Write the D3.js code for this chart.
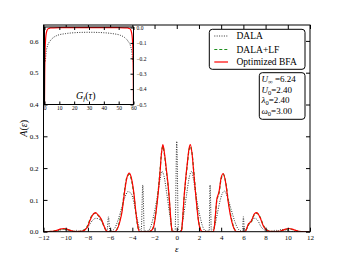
<!DOCTYPE html>
<html>
<head>
<meta charset="utf-8">
<script src="https://cdn.jsdelivr.net/npm/d3@7"></script>
<style>
  body { margin: 0; background: #fff; }
  svg { display: block; }
  text { font-family: "Liberation Serif", "DejaVu Serif", serif; fill: #000; }
</style>
</head>
<body>
<svg id="chart" width="344" height="258"></svg>
<script>
// spectral function A(eps)
const epsBFA = [-12, -11.2, -10.8, -10.5, -10.2, -9.9, -9.6, -9.3, -9.0, -8.7, -8.45, -8.25, -8.0, -7.8, -7.55, -7.3, -7.1, -6.9, -6.75, -6.55, -6.37, -6.2,
  -5.6, -5.4, -5.26, -5.1, -4.95, -4.72, -4.5, -4.27, -4.05, -3.85, -3.67, -3.46, -3.36,
  -2.5, -2.3, -2.1, -1.95, -1.8, -1.65, -1.5, -1.38, -1.25, -1.1, -0.95, -0.8, -0.65, -0.55, -0.45, -0.4,
  0.4, 0.45, 0.55, 0.65, 0.8, 0.95, 1.1, 1.22, 1.38, 1.52, 1.67, 1.82, 1.95, 2.1, 2.3,
  3.3, 3.39, 3.5, 3.6, 3.81, 4.0, 4.19, 4.41, 4.65, 4.89, 5.05, 5.19, 5.4,
  6.15, 6.3, 6.45, 6.7, 6.99, 7.2, 7.5, 7.8, 8.1, 8.4, 8.8, 9.2, 9.5, 9.8, 10.1, 10.4, 10.7, 11.0, 11.5, 12];
const valBFA = [0, 0.001, 0.004, 0.008, 0.010, 0.008, 0.004, 0.001, 0.0005, 0.001, 0.002, 0.006, 0.018, 0.037, 0.054, 0.060, 0.053, 0.045, 0.036, 0.018, 0.004, 0,
  0, 0.006, 0.016, 0.035, 0.058, 0.120, 0.168, 0.184, 0.163, 0.118, 0.058, 0.010, 0,
  0, 0.003, 0.013, 0.04, 0.08, 0.13, 0.19, 0.245, 0.274, 0.245, 0.2, 0.155, 0.095, 0.045, 0.008, 0,
  0, 0.008, 0.05, 0.105, 0.165, 0.215, 0.26, 0.274, 0.245, 0.19, 0.13, 0.075, 0.035, 0.01, 0,
  0, 0.016, 0.06, 0.1, 0.126, 0.17, 0.183, 0.153, 0.09, 0.042, 0.02, 0.008, 0,
  0, 0.01, 0.024, 0.032, 0.056, 0.060, 0.045, 0.018, 0.005, 0.001, 0.0005, 0.001, 0.004, 0.008, 0.010, 0.008, 0.004, 0.001, 0, 0];

const epsLF = [-12, -11.2, -10.8, -10.5, -10.2, -9.9, -9.6, -9.3, -9.0, -8.7, -8.45, -8.25, -8.0, -7.8, -7.55, -7.3, -7.1, -6.9, -6.75, -6.55, -6.37, -6.2,
  -5.6, -5.4, -5.26, -5.1, -4.95, -4.72, -4.5, -4.27, -4.05, -3.85, -3.67, -3.46, -3.36,
  -2.5, -2.3, -2.1, -1.95, -1.8, -1.65, -1.5, -1.38, -1.25, -1.1, -0.95, -0.8, -0.65, -0.55, -0.45, -0.4,
  0.4, 0.45, 0.55, 0.65, 0.8, 0.95, 1.1, 1.22, 1.38, 1.52, 1.67, 1.82, 1.95, 2.1, 2.3,
  3.3, 3.39, 3.5, 3.6, 3.81, 4.0, 4.19, 4.41, 4.65, 4.89, 5.05, 5.19, 5.4,
  6.15, 6.3, 6.45, 6.7, 6.99, 7.2, 7.5, 7.8, 8.1, 8.4, 8.8, 9.2, 9.5, 9.8, 10.1, 10.4, 10.7, 11.0, 11.5, 12];
const valLF = [0, 0.001, 0.004, 0.007, 0.009, 0.007, 0.004, 0.001, 0.0005, 0.001, 0.003, 0.008, 0.021, 0.040, 0.055, 0.058, 0.052, 0.043, 0.034, 0.016, 0.004, 0,
  0, 0.007, 0.019, 0.040, 0.064, 0.125, 0.170, 0.180, 0.158, 0.112, 0.054, 0.009, 0,
  0, 0.004, 0.015, 0.044, 0.085, 0.136, 0.195, 0.246, 0.268, 0.24, 0.195, 0.15, 0.09, 0.042, 0.007, 0,
  0, 0.007, 0.047, 0.1, 0.16, 0.21, 0.255, 0.268, 0.246, 0.195, 0.136, 0.08, 0.038, 0.012, 0,
  0, 0.015, 0.056, 0.096, 0.122, 0.166, 0.180, 0.156, 0.095, 0.046, 0.023, 0.009, 0,
  0, 0.009, 0.022, 0.030, 0.054, 0.058, 0.046, 0.020, 0.006, 0.001, 0.0005, 0.001, 0.004, 0.007, 0.009, 0.007, 0.004, 0.001, 0, 0];

const epsDALA = [-12, -11, -10.2, -9.5, -9.15, -9.05, -8.95, -8.5, -8.0, -7.6, -7.3, -7.0, -6.7, -6.45, -6.28, -6.15, -6.02,
  -5.9, -5.6, -5.3, -5.0, -4.7, -4.4, -4.1, -3.85, -3.6, -3.4, -3.2, -3.06, -2.92,
  -2.75, -2.5, -2.3, -2.1, -1.8, -1.5, -1.35, -1.15, -0.9, -0.6, -0.4, -0.15, 0, 0.15,
  0.4, 0.6, 0.9, 1.15, 1.35, 1.5, 1.8, 2.1, 2.3, 2.5, 2.75,
  2.92, 3.0, 3.12, 3.4, 3.6, 3.85, 4.1, 4.3, 4.6, 4.9, 5.2, 5.5, 5.8,
  5.92, 6.0, 6.1, 6.3, 6.55, 6.8, 7.05, 7.3, 7.6, 8.0, 8.5, 8.95, 9.05, 9.15, 9.5, 10.2, 11, 12];
const valDALA = [0, 0.001, 0.007, 0.003, 0.001, 0.005, 0.001, 0.004, 0.015, 0.035, 0.042, 0.04, 0.028, 0.01, 0.001, 0.047, 0.001,
  0.002, 0.01, 0.035, 0.07, 0.105, 0.126, 0.12, 0.09, 0.047, 0.015, 0.002, 0.147, 0.002,
  0.002, 0.005, 0.02, 0.047, 0.1, 0.165, 0.19, 0.175, 0.12, 0.047, 0.005, 0.001, 0.284, 0.001,
  0.005, 0.047, 0.12, 0.175, 0.19, 0.165, 0.1, 0.047, 0.02, 0.005, 0.002,
  0.002, 0.147, 0.002, 0.015, 0.047, 0.09, 0.12, 0.128, 0.105, 0.07, 0.035, 0.01, 0.002,
  0.001, 0.047, 0.001, 0.01, 0.028, 0.04, 0.042, 0.035, 0.015, 0.004, 0.001, 0.005, 0.001, 0.003, 0.007, 0.001, 0];

// inset: G_f(tau)
const tauBFA = [0, 0.15, 0.35, 0.6, 1, 1.5, 2, 3, 4, 6, 10, 20, 30, 40, 50, 54, 56, 57, 58, 58.5, 59, 59.4, 59.65, 59.85, 60];
const gBFA = [-0.5, -0.3, -0.17, -0.1, -0.05, -0.025, -0.013, -0.006, -0.003, -0.002, -0.001, -0.001, -0.001, -0.001, -0.001, -0.002, -0.003, -0.006, -0.013, -0.025, -0.05, -0.1, -0.17, -0.3, -0.5];
const tauDALA = [0.6, 1, 2, 3.6, 6, 9, 14, 20, 30, 40, 46, 51, 54, 56.4, 58, 59, 59.4];
const gDALA = [-0.22, -0.17, -0.12, -0.09, -0.065, -0.05, -0.04, -0.034, -0.031, -0.034, -0.04, -0.05, -0.065, -0.09, -0.12, -0.17, -0.22];

const xTicks = d3.range(-12, 13, 2);
const yTicks = [0, 0.1, 0.2, 0.3, 0.4, 0.5, 0.6];
const tauTicks = [0, 10, 20, 30, 40, 50, 60];
const gTicks = [0, -0.1, -0.2, -0.3, -0.4, -0.5];

const legendNames = ["DALA", "DALA+LF", "Optimized BFA"];
const params = [["U", "\u221e", "6.24"], ["U", "0", "2.40"], ["\u03bb", "0", "2.40"], ["\u03c9", "0", "3.00"]];

const svg = d3.select("#chart");
const main = { left: 43.5, right: 310, top: 25, bottom: 231.7 };
const ins = { left: 44.5, right: 133.5, top: 27, bottom: 104.5 };

const x = d3.scaleLinear().domain([-12, 12]).range([main.left, main.right]);
const y = d3.scaleLinear().domain([0, 0.65]).range([main.bottom, main.top]);

const styles = [
  { stroke: "#333", width: 1, dash: "1,1.4" },
  { stroke: "#1f8f1f", width: 1.2, dash: "3,2" },
  { stroke: "#ff0000", width: 1.2, dash: null }
];

// ----- main axes
svg.append("defs").append("clipPath").attr("id", "clipMain")
  .append("rect").attr("x", main.left).attr("y", main.top)
  .attr("width", main.right - main.left).attr("height", main.bottom - main.top);

const line = d3.line().x(d => x(d[0])).y(d => y(d[1])).curve(d3.curveMonotoneX);
const mainSeries = [d3.zip(epsDALA, valDALA), d3.zip(epsLF, valLF), d3.zip(epsBFA, valBFA)];

const plot = svg.append("g").attr("clip-path", "url(#clipMain)");
mainSeries.forEach((s, i) => {
  plot.append("path")
    .attr("d", line(s))
    .attr("fill", "none")
    .attr("stroke", styles[i].stroke)
    .attr("stroke-width", styles[i].width)
    .attr("stroke-dasharray", styles[i].dash)
    .attr("stroke-linejoin", "round");
});

// inward ticks on all four sides
svg.append("g").attr("transform", `translate(0,${main.bottom})`)
  .call(d3.axisBottom(x).tickValues(xTicks).tickSizeInner(-4).tickSizeOuter(0).tickPadding(3))
  .call(g => g.select(".domain").remove())
  .call(g => g.selectAll("text").attr("font-size", 7).attr("font-family", "Liberation Serif"));
svg.append("g").attr("transform", `translate(0,${main.top})`)
  .call(d3.axisTop(x).tickValues(xTicks).tickSizeInner(-4).tickSizeOuter(0).tickFormat(""))
  .call(g => g.select(".domain").remove());
svg.append("g").attr("transform", `translate(${main.left},0)`)
  .call(d3.axisLeft(y).tickValues(yTicks).tickSizeInner(-4).tickSizeOuter(0).tickPadding(5).tickFormat(d3.format(".1f")))
  .call(g => g.select(".domain").remove())
  .call(g => g.selectAll("text").attr("font-size", 7).attr("font-family", "Liberation Serif"));
svg.append("g").attr("transform", `translate(${main.right},0)`)
  .call(d3.axisRight(y).tickValues(yTicks).tickSizeInner(-4).tickSizeOuter(0).tickFormat(""))
  .call(g => g.select(".domain").remove());

svg.append("rect")
  .attr("x", main.left).attr("y", main.top)
  .attr("width", main.right - main.left).attr("height", main.bottom - main.top)
  .attr("fill", "none").attr("stroke", "#000").attr("stroke-width", 1);

// axis labels
svg.append("text").attr("x", x(0)).attr("y", 251.5).attr("text-anchor", "middle")
  .attr("font-size", 9).attr("font-style", "italic").text("\u03b5");
const yl = svg.append("text").attr("transform", `translate(27,${(main.top + main.bottom) / 2}) rotate(-90)`)
  .attr("text-anchor", "middle").attr("font-size", 10);
yl.append("tspan").attr("font-style", "italic").text("A");
yl.append("tspan").text("(");
yl.append("tspan").attr("font-style", "italic").text("\u03b5");
yl.append("tspan").text(")");

// ----- legend
const leg = svg.append("g");
leg.append("rect").attr("x", 209.3).attr("y", 29.3).attr("width", 95.7).attr("height", 40)
  .attr("rx", 3).attr("fill", "#fff").attr("stroke", "#000").attr("stroke-width", 1);
const legY = [36, 49.5, 62];
legendNames.forEach((name, i) => {
  leg.append("line").attr("x1", 214.3).attr("x2", 228).attr("y1", legY[i]).attr("y2", legY[i])
    .attr("stroke", styles[i].stroke).attr("stroke-width", styles[i].width)
    .attr("stroke-dasharray", styles[i].dash);
  leg.append("text").attr("x", 236.5).attr("y", legY[i] + 3.3).attr("font-size", 9.5).text(name);
});

// ----- parameter box
const pb = svg.append("g");
pb.append("rect").attr("x", 259.3).attr("y", 72.7).attr("width", 45.7).attr("height", 46.6)
  .attr("rx", 3).attr("fill", "#fff").attr("stroke", "#000").attr("stroke-width", 1);
const pY = [82, 92.6, 103, 113.6];
params.forEach((p, i) => {
  const t = pb.append("text").attr("x", 261.5).attr("y", pY[i]).attr("font-size", 9);
  t.append("tspan").attr("font-style", "italic").text(p[0]);
  t.append("tspan").attr("font-size", 6.5).attr("dy", 2).text(p[1]);
  t.append("tspan").attr("dy", -2).text(i === 0 ? " =" + p[2] : "=" + p[2]);
});

// ----- inset
const tx = d3.scaleLinear().domain([0, 60]).range([ins.left, ins.right]);
const gy = d3.scaleLinear().domain([-0.5, 0]).range([ins.bottom, ins.top + 0.5]);

svg.append("rect").attr("x", ins.left).attr("y", ins.top)
  .attr("width", ins.right - ins.left).attr("height", ins.bottom - ins.top).attr("fill", "#fff");
svg.select("defs").append("clipPath").attr("id", "clipIns")
  .append("rect").attr("x", ins.left).attr("y", ins.top - 1)
  .attr("width", ins.right - ins.left).attr("height", ins.bottom - ins.top + 1);

const iline = d3.line().x(d => tx(d[0])).y(d => gy(d[1])).curve(d3.curveMonotoneX);
const ip = svg.append("g").attr("clip-path", "url(#clipIns)");
ip.append("path").attr("d", iline(d3.zip(tauDALA, gDALA)))
  .attr("fill", "none").attr("stroke", styles[0].stroke).attr("stroke-width", 1).attr("stroke-dasharray", styles[0].dash);
ip.append("path").attr("d", iline(d3.zip(tauBFA, gBFA)))
  .attr("fill", "none").attr("stroke", styles[2].stroke).attr("stroke-width", 1.2);

svg.append("g").attr("transform", `translate(0,${ins.bottom})`)
  .call(d3.axisBottom(tx).tickValues(tauTicks).tickSizeInner(-3).tickSizeOuter(0).tickPadding(2))
  .call(g => g.select(".domain").remove())
  .call(g => g.selectAll("text").attr("font-size", 5.5).attr("font-family", "Liberation Serif"));
svg.append("g").attr("transform", `translate(0,${ins.top})`)
  .call(d3.axisTop(tx).tickValues(tauTicks).tickSizeInner(-3).tickSizeOuter(0).tickFormat(""))
  .call(g => g.select(".domain").remove());
svg.append("g").attr("transform", `translate(${ins.right},0)`)
  .call(d3.axisRight(gy).tickValues(gTicks).tickSizeInner(-3).tickSizeOuter(0).tickPadding(3).tickFormat(d3.format(".1f")))
  .call(g => g.select(".domain").remove())
  .call(g => g.selectAll("text").attr("font-size", 5.5).attr("font-family", "Liberation Serif"));

svg.append("rect").attr("x", ins.left).attr("y", ins.top)
  .attr("width", ins.right - ins.left).attr("height", ins.bottom - ins.top)
  .attr("fill", "none").attr("stroke", "#000").attr("stroke-width", 1);

const gl = svg.append("text").attr("x", 76).attr("y", 99).attr("font-size", 10);
gl.append("tspan").attr("font-style", "italic").text("G");
gl.append("tspan").attr("font-style", "italic").attr("font-size", 7).attr("dy", 2).text("f");
gl.append("tspan").attr("dy", -2).text("(");
gl.append("tspan").attr("font-style", "italic").text("\u03c4");
gl.append("tspan").text(")");
</script>
</body>
</html>
